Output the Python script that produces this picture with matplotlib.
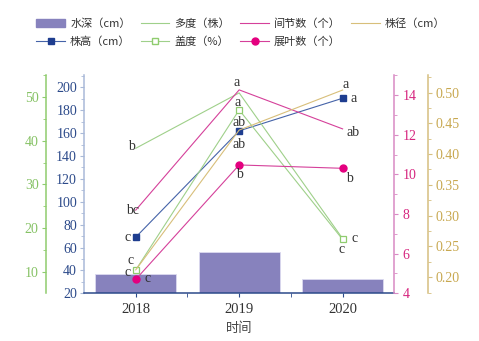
import matplotlib.pyplot as plt
from matplotlib.patches import Rectangle
from matplotlib.lines import Line2D
from matplotlib.ticker import MultipleLocator

# data
years = ['2018', '2019', '2020']
depth = [37, 56, 32.5]              # 水深(cm), blue axis
height = [69, 162, 190.5]           # 株高(cm), blue axis
abundance = [38.3, 51.0, 17.6]      # 多度(株), green axis
cover = [10.4, 47.1, 17.4]          # 盖度(%), green axis
internode = [8.2, 14.27, 12.3]      # 间节数(个), pink axis
leaves = [4.7, 10.48, 10.31]        # 展叶数(个), pink axis
diameter = [0.212, 0.439, 0.504]    # 株径(cm), gold axis

# significance letters
abundance_sig = ['b', '', 'c']
cover_sig = ['c', 'a', 'c']
internode_sig = ['bc', 'a', 'ab']
leaves_sig = ['c', 'b', 'b']
height_sig = ['c', 'ab', 'a']
diameter_sig = ['c', 'ab', 'a']

serif = ['Liberation Serif', 'Noto Sans CJK SC']
cjk = ['Noto Sans CJK SC', 'DejaVu Sans']
plt.rcParams['font.family'] = serif

c_bar = '#8782bd'
c_blue = '#1e3d8f'
c_blue_line = '#4563a8'
c_blue_axis = '#a9b9d8'
c_blue_lab = '#2c4a8a'
c_green = '#9fd08a'
c_green_axis = '#8fcc6e'
c_green_lab = '#86c265'
c_pink = '#d5409a'
c_dot = '#e4007f'
c_pink_axis = '#d98ac4'
c_pink_lab = '#d6257f'
c_gold = '#d8bf7a'
c_gold_axis = '#d6bf80'
c_gold_lab = '#c8a850'
c_txt = '#333333'

fig = plt.figure(figsize=(4.79, 3.41), dpi=100)
ax = fig.add_axes([0.1754, 0.1399, 0.6478, 0.6401])
ax_g = ax.twinx()
ax_p = ax.twinx()
ax_y = ax.twinx()

x = list(range(len(years)))

# bars + 株高 on main axis
ax.bar(x, depth, width=0.78, color=c_bar, edgecolor='#dcdaf0', linewidth=0.6, zorder=1)
ax.plot(x, height, color=c_blue_line, lw=0.8, marker='s', ms=5, mfc=c_blue, mec=c_blue, zorder=3)
ax.set_xlim(-0.5, 2.5)
ax.set_ylim(20, 210.8)

# green axis
ax_g.plot(x, abundance, color=c_green, lw=0.8)
ax_g.plot(x, cover, color=c_green, lw=0.8, marker='s', ms=5, mfc='white', mec=c_green_axis, mew=0.9)
ax_g.set_ylim(5.05, 55.1)

# pink axis
ax_p.plot(x, internode, color=c_pink, lw=0.8)
ax_p.plot(x, leaves, color=c_pink, lw=0.8, marker='o', ms=5, mfc=c_dot, mec=c_dot)
ax_p.set_ylim(4, 15.02)

# gold axis
ax_y.plot(x, diameter, color=c_gold, lw=0.8)
ax_y.set_ylim(0.174, 0.5284)

# spines and ticks
for a in (ax, ax_g, ax_p, ax_y):
    a.spines['top'].set_visible(False)
for a in (ax_g, ax_p, ax_y):
    a.spines['bottom'].set_visible(False)
for a in (ax_p, ax_y):
    a.spines['left'].set_visible(False)
ax.spines['right'].set_visible(False)
ax.spines['left'].set_color(c_blue_axis)
ax.spines['bottom'].set_color(c_blue_lab)
ax.spines['left'].set_linewidth(1.1)
ax.spines['bottom'].set_linewidth(1.1)
ax.yaxis.set_major_locator(MultipleLocator(20))
ax.yaxis.set_minor_locator(MultipleLocator(10))
ax.tick_params(axis='y', which='both', colors=c_blue_axis, labelcolor=c_blue_lab, labelsize=10)
ax.tick_params(axis='y', which='major', length=3, pad=2)
ax.tick_params(axis='y', which='minor', length=2)
ax.set_xticks(x)
ax.set_xticklabels(years)
ax.set_xticks([0.5, 1.5], minor=True)
ax.tick_params(axis='x', which='both', colors=c_blue_lab, labelcolor=c_txt, labelsize=10.5, length=3, pad=4)
ax.set_xlabel('时间', family=cjk, fontsize=9.5, color='#444444', labelpad=4)

ax_g.spines['right'].set_visible(False)
ax_g.spines['left'].set_visible(True)
ax_g.spines['left'].set_position(('outward', 27.6))
ax_g.spines['left'].set_color(c_green_axis)
ax_g.spines['left'].set_linewidth(1.1)
ax_g.yaxis.set_ticks_position('left')
ax_g.yaxis.set_label_position('left')
ax_g.yaxis.set_major_locator(MultipleLocator(10))
ax_g.yaxis.set_minor_locator(MultipleLocator(5))
ax_g.tick_params(axis='y', which='both', colors=c_green_axis, labelcolor=c_green_lab, labelsize=10)
ax_g.tick_params(axis='y', which='major', length=3, pad=2)
ax_g.tick_params(axis='y', which='minor', length=2)

ax_p.spines['right'].set_color(c_pink_axis)
ax_p.spines['right'].set_linewidth(1.1)
ax_p.yaxis.set_major_locator(MultipleLocator(2))
ax_p.yaxis.set_minor_locator(MultipleLocator(1))
ax_p.tick_params(axis='y', which='both', colors=c_pink_axis, labelcolor=c_pink_lab, labelsize=10)
ax_p.tick_params(axis='y', which='major', length=3, pad=3)
ax_p.tick_params(axis='y', which='minor', length=2)

ax_y.spines['right'].set_position(('outward', 24.5))
ax_y.spines['right'].set_color(c_gold_axis)
ax_y.spines['right'].set_linewidth(1.1)
ax_y.yaxis.set_major_locator(MultipleLocator(0.05))
ax_y.yaxis.set_minor_locator(MultipleLocator(0.025))
ax_y.yaxis.set_major_formatter(lambda v, p: f'{v:.2f}')
ax_y.tick_params(axis='y', which='both', colors=c_gold_axis, labelcolor=c_gold_lab, labelsize=10)
ax_y.tick_params(axis='y', which='major', length=3, pad=2)
ax_y.tick_params(axis='y', which='minor', length=2)

# letters: (axis, values, letters, list of (dx, dy, ha) in pixels)
marks = [
    (ax_g, abundance, abundance_sig, [(-1, 2, 'right'), (0, 0, 'center'), (-1, -11, 'center')]),
    (ax_g, cover, cover_sig, [(-5, -3, 'right'), (-2, 7, 'center'), (9, 1, 'left')]),
    (ax_p, internode, internode_sig, [(3, 0, 'right'), (-2.5, 7, 'center'), (4, -4, 'left')]),
    (ax_p, leaves, leaves_sig, [(9, 1, 'left'), (0, -9.5, 'center'), (3, -10, 'left')]),
    (ax, height, height_sig, [(-5, 0, 'right'), (0, -14, 'center'), (8, 0, 'left')]),
    (ax_y, diameter, diameter_sig, [(-2, 9, 'right'), (0, 8, 'center'), (3, 6, 'center')]),
]
for a, vals, sig, offs in marks:
    for i, (v, s) in enumerate(zip(vals, sig)):
        if not s:
            continue
        dx, dy, ha = offs[i]
        a.annotate(s, (i, v), xytext=(dx, dy), textcoords='offset pixels',
                   ha=ha, va='center', fontsize=10, color=c_txt, zorder=5)

# legend
handles = [
    Rectangle((0, 0), 1, 1, color=c_bar),
    Line2D([], [], color=c_blue_line, lw=0.8, marker='s', ms=5, mfc=c_blue, mec=c_blue),
    Line2D([], [], color=c_green, lw=0.8),
    Line2D([], [], color=c_green, lw=0.8, marker='s', ms=5, mfc='white', mec=c_green_axis),
    Line2D([], [], color=c_pink, lw=0.8),
    Line2D([], [], color=c_pink, lw=0.8, marker='o', ms=5, mfc=c_dot, mec=c_dot),
    Line2D([], [], color=c_gold, lw=0.8),
]
labels = ['水深（cm）', '株高（cm）', '多度（株）', '盖度（%）',
          '间节数（个）', '展叶数（个）', '株径（cm）']
leg = fig.legend(handles, labels, ncol=4, loc='upper left', bbox_to_anchor=(0.064, 0.962),
                 frameon=False, prop={'family': cjk, 'size': 8}, handlelength=2.6,
                 handletextpad=0.45, columnspacing=0.9, labelspacing=0.65, borderpad=0)
for t in leg.get_texts():
    t.set_color(c_txt)

fig.savefig('out.png', dpi=100)
